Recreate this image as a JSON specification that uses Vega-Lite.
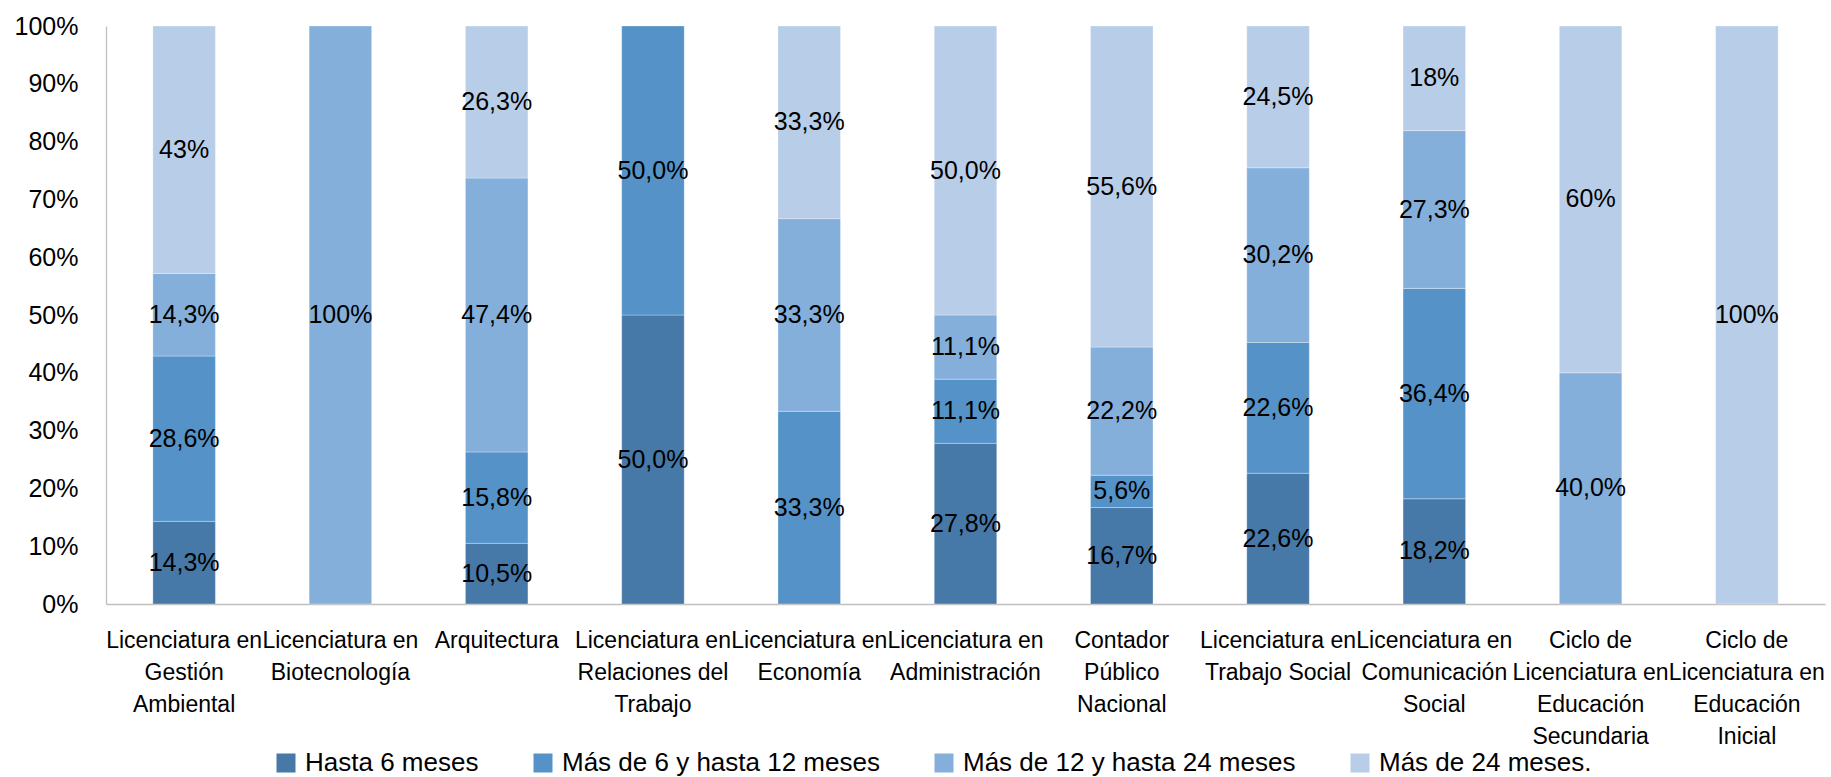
{
  "$schema": "https://vega.github.io/schema/vega-lite/v6.json",
  "width": 1719,
  "height": 578,
  "autosize": {"type": "none"},
  "padding": {"left": 106, "top": 26, "right": 6, "bottom": 173},
  "background": "white",
  "config": {
    "view": {"stroke": null},
    "font": "Liberation Sans",
    "axis": {"labelFont": "Liberation Sans", "labelColor": "#000000", "grid": false, "ticks": false, "domainColor": "#bfbfbf", "domainWidth": 1.3, "title": null},
    "legend": {"labelFont": "Liberation Sans"}
  },
  "data": {
    "values": [
      {"carrera": "Licenciatura en|Gestión|Ambiental", "periodo": "Hasta 6 meses", "orden": 1, "valor": 14.3, "etiqueta": "14,3%"},
      {"carrera": "Licenciatura en|Gestión|Ambiental", "periodo": "Más de 6 y hasta 12 meses", "orden": 2, "valor": 28.6, "etiqueta": "28,6%"},
      {"carrera": "Licenciatura en|Gestión|Ambiental", "periodo": "Más de 12 y hasta 24 meses", "orden": 3, "valor": 14.3, "etiqueta": "14,3%"},
      {"carrera": "Licenciatura en|Gestión|Ambiental", "periodo": "Más de 24 meses.", "orden": 4, "valor": 42.8, "etiqueta": "43%"},
      {"carrera": "Licenciatura en|Biotecnología", "periodo": "Más de 12 y hasta 24 meses", "orden": 3, "valor": 100, "etiqueta": "100%"},
      {"carrera": "Arquitectura", "periodo": "Hasta 6 meses", "orden": 1, "valor": 10.5, "etiqueta": "10,5%"},
      {"carrera": "Arquitectura", "periodo": "Más de 6 y hasta 12 meses", "orden": 2, "valor": 15.8, "etiqueta": "15,8%"},
      {"carrera": "Arquitectura", "periodo": "Más de 12 y hasta 24 meses", "orden": 3, "valor": 47.4, "etiqueta": "47,4%"},
      {"carrera": "Arquitectura", "periodo": "Más de 24 meses.", "orden": 4, "valor": 26.3, "etiqueta": "26,3%"},
      {"carrera": "Licenciatura en|Relaciones del|Trabajo", "periodo": "Hasta 6 meses", "orden": 1, "valor": 50.0, "etiqueta": "50,0%"},
      {"carrera": "Licenciatura en|Relaciones del|Trabajo", "periodo": "Más de 6 y hasta 12 meses", "orden": 2, "valor": 50.0, "etiqueta": "50,0%"},
      {"carrera": "Licenciatura en|Economía", "periodo": "Más de 6 y hasta 12 meses", "orden": 2, "valor": 33.3, "etiqueta": "33,3%"},
      {"carrera": "Licenciatura en|Economía", "periodo": "Más de 12 y hasta 24 meses", "orden": 3, "valor": 33.3, "etiqueta": "33,3%"},
      {"carrera": "Licenciatura en|Economía", "periodo": "Más de 24 meses.", "orden": 4, "valor": 33.3, "etiqueta": "33,3%"},
      {"carrera": "Licenciatura en|Administración", "periodo": "Hasta 6 meses", "orden": 1, "valor": 27.8, "etiqueta": "27,8%"},
      {"carrera": "Licenciatura en|Administración", "periodo": "Más de 6 y hasta 12 meses", "orden": 2, "valor": 11.1, "etiqueta": "11,1%"},
      {"carrera": "Licenciatura en|Administración", "periodo": "Más de 12 y hasta 24 meses", "orden": 3, "valor": 11.1, "etiqueta": "11,1%"},
      {"carrera": "Licenciatura en|Administración", "periodo": "Más de 24 meses.", "orden": 4, "valor": 50.0, "etiqueta": "50,0%"},
      {"carrera": "Contador|Público|Nacional", "periodo": "Hasta 6 meses", "orden": 1, "valor": 16.7, "etiqueta": "16,7%"},
      {"carrera": "Contador|Público|Nacional", "periodo": "Más de 6 y hasta 12 meses", "orden": 2, "valor": 5.6, "etiqueta": "5,6%"},
      {"carrera": "Contador|Público|Nacional", "periodo": "Más de 12 y hasta 24 meses", "orden": 3, "valor": 22.2, "etiqueta": "22,2%"},
      {"carrera": "Contador|Público|Nacional", "periodo": "Más de 24 meses.", "orden": 4, "valor": 55.6, "etiqueta": "55,6%"},
      {"carrera": "Licenciatura en|Trabajo Social", "periodo": "Hasta 6 meses", "orden": 1, "valor": 22.6, "etiqueta": "22,6%"},
      {"carrera": "Licenciatura en|Trabajo Social", "periodo": "Más de 6 y hasta 12 meses", "orden": 2, "valor": 22.6, "etiqueta": "22,6%"},
      {"carrera": "Licenciatura en|Trabajo Social", "periodo": "Más de 12 y hasta 24 meses", "orden": 3, "valor": 30.2, "etiqueta": "30,2%"},
      {"carrera": "Licenciatura en|Trabajo Social", "periodo": "Más de 24 meses.", "orden": 4, "valor": 24.5, "etiqueta": "24,5%"},
      {"carrera": "Licenciatura en|Comunicación|Social", "periodo": "Hasta 6 meses", "orden": 1, "valor": 18.2, "etiqueta": "18,2%"},
      {"carrera": "Licenciatura en|Comunicación|Social", "periodo": "Más de 6 y hasta 12 meses", "orden": 2, "valor": 36.4, "etiqueta": "36,4%"},
      {"carrera": "Licenciatura en|Comunicación|Social", "periodo": "Más de 12 y hasta 24 meses", "orden": 3, "valor": 27.3, "etiqueta": "27,3%"},
      {"carrera": "Licenciatura en|Comunicación|Social", "periodo": "Más de 24 meses.", "orden": 4, "valor": 18.1, "etiqueta": "18%"},
      {"carrera": "Ciclo de|Licenciatura en|Educación|Secundaria", "periodo": "Más de 12 y hasta 24 meses", "orden": 3, "valor": 40.0, "etiqueta": "40,0%"},
      {"carrera": "Ciclo de|Licenciatura en|Educación|Secundaria", "periodo": "Más de 24 meses.", "orden": 4, "valor": 60.0, "etiqueta": "60%"},
      {"carrera": "Ciclo de|Licenciatura en|Educación|Inicial", "periodo": "Más de 24 meses.", "orden": 4, "valor": 100, "etiqueta": "100%"}
    ]
  },
  "transform": [
    {"stack": "valor", "groupby": ["carrera"], "sort": [{"field": "orden", "order": "ascending"}], "offset": "normalize", "as": ["v0", "v1"]}
  ],
  "encoding": {
    "x": {
      "field": "carrera", "type": "nominal", "sort": null,
      "scale": {"paddingInner": 0.6, "paddingOuter": 0.3},
      "axis": {"labelAngle": 0, "labelFontSize": 23, "labelLineHeight": 32, "labelPadding": 25, "labelLimit": 0, "labelOverlap": false, "labelBound": false, "labelBaseline": "top", "labelExpr": "split(datum.label, '|')"}
    }
  },
  "layer": [
    {
      "mark": {"type": "bar", "stroke": "#ffffff", "strokeWidth": 0.6, "strokeOpacity": 0.5},
      "encoding": {
        "y": {"field": "v0", "type": "quantitative", "scale": {"domain": [0, 1], "nice": false},
          "axis": {"format": ".0%", "values": [0, 0.1, 0.2, 0.3, 0.4, 0.5, 0.6, 0.7, 0.8, 0.9, 1], "labelFontSize": 25, "labelPadding": 28}},
        "y2": {"field": "v1"},
        "color": {
          "field": "periodo", "type": "nominal",
          "scale": {"domain": ["Hasta 6 meses", "Más de 6 y hasta 12 meses", "Más de 12 y hasta 24 meses", "Más de 24 meses."], "range": ["#4678a8", "#5492c7", "#85afdb", "#b8cde8"]},
          "legend": {"orient": "none", "legendX": 167, "legendY": 724, "direction": "horizontal", "title": null, "symbolType": "square", "symbolSize": 361, "symbolStrokeWidth": 0, "labelFontSize": 26, "labelColor": "#000000", "labelOffset": 6, "columnPadding": 51, "labelLimit": 0}
        }
      }
    },
    {
      "transform": [
        {"fold": ["v0", "v1"], "as": ["extremo", "pos"]},
        {"aggregate": [{"op": "mean", "field": "pos", "as": "medio"}], "groupby": ["carrera", "periodo", "etiqueta"]}
      ],
      "mark": {"type": "text", "fontSize": 25, "color": "#000000", "baseline": "middle", "align": "center"},
      "encoding": {
        "y": {"field": "medio", "type": "quantitative"},
        "text": {"field": "etiqueta", "type": "nominal"}
      }
    }
  ]
}
